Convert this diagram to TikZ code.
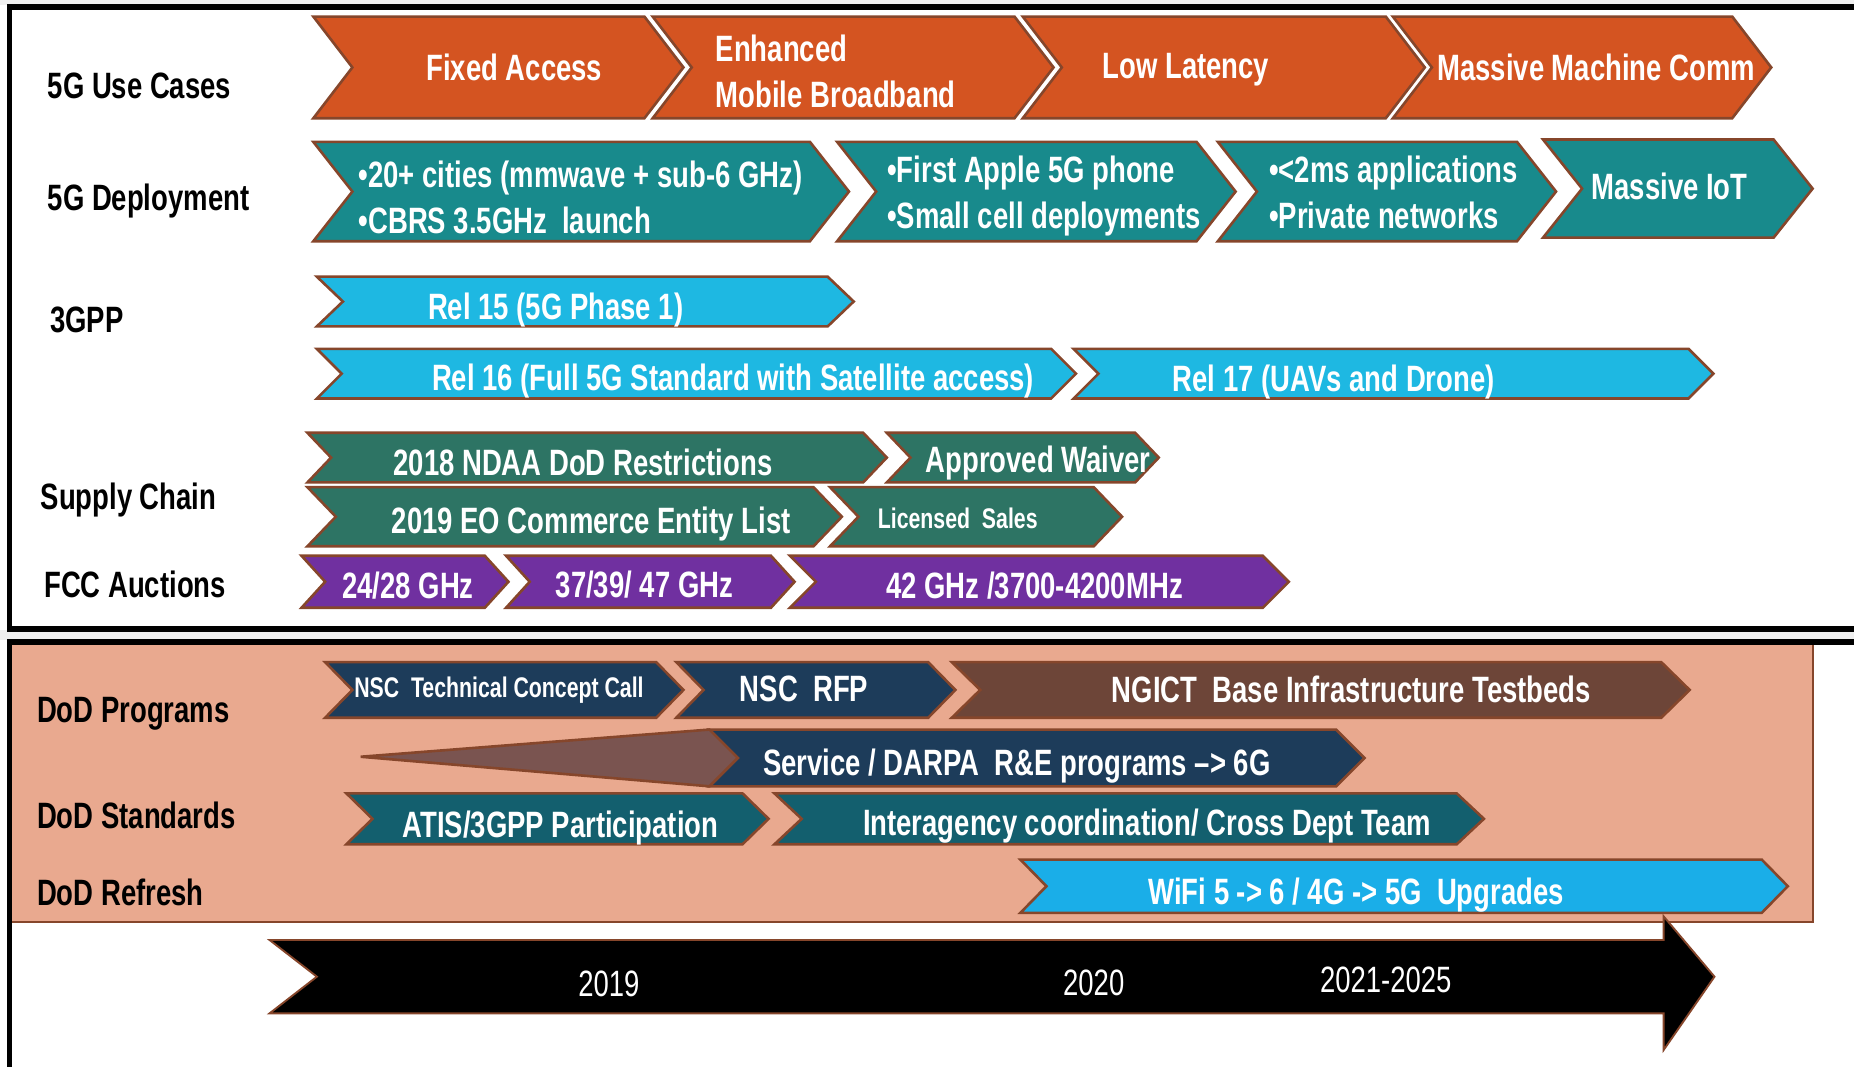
\documentclass[tikz,border=0pt]{standalone}
\usepackage{fontspec}
\newfontfamily\nar{Liberation Sans}[FakeStretch=0.75]
\definecolor{orangeC}{HTML}{D45421}
\definecolor{tealC}{HTML}{188A8C}
\definecolor{cyanC}{HTML}{1EB8E2}
\definecolor{greenC}{HTML}{2D7464}
\definecolor{purpC}{HTML}{7030A0}
\definecolor{navyC}{HTML}{1D3C5A}
\definecolor{brownC}{HTML}{6D4538}
\definecolor{dtealC}{HTML}{135F6E}
\definecolor{wifiC}{HTML}{1AAEE8}
\definecolor{salmonC}{HTML}{E9A98F}
\definecolor{wedgeC}{HTML}{7A5450}
\definecolor{edgeC}{HTML}{86462B}
\definecolor{gapC}{HTML}{EFEFEF}
\tikzset{
  chevbox/.style={draw=edgeC, line width=1.1pt, line join=miter},
  wt/.style={text=white, font=\nar\bfseries\fontsize{15.5}{19.5}\selectfont, inner sep=0pt, text height=11pt, text depth=0pt},
  wtwo/.style={text=white, font=\nar\bfseries\fontsize{15.5}{19.5}\selectfont, inner sep=0pt, align=left, anchor=west},
  wsmall/.style={wt, font=\nar\bfseries\fontsize{12}{15}\selectfont, text height=8.6pt},
  lab/.style={text=black, font=\nar\bfseries\fontsize{15.5}{19}\selectfont, inner sep=0pt, anchor=west, text height=11pt, text depth=0pt},
  yr/.style={text=white, font=\nar\fontsize{15.5}{19}\selectfont, inner sep=0pt, text height=11pt, text depth=0pt},
  frameline/.style={line width=2.3pt, black},
}
% #1 style, #2 left x, #3 right body x, #4 top y, #5 bottom y, #6 point depth
\newcommand\chev[6][]{\path[chevbox,#1] (#2,#4) -- (#3,#4) -- ({#3+#6},{(#4+#5)/2}) -- (#3,#5) -- (#2,#5) -- ({#2+#6},{(#4+#5)/2}) -- cycle;}
\begin{document}
\begin{tikzpicture}[x=0.5pt,y=-0.5pt]
\useasboundingbox (0,0) rectangle (1568,902);
\begin{scope}
\clip (0,0) rectangle (1568,902);
\fill[white] (0,0) rectangle (1568,902);
\fill[gapC] (0,0) rectangle (1568,4);
\fill[gapC] (0,533) rectangle (1568,541);
% salmon region
\path[fill=salmonC, draw=edgeC, line width=0.8pt] (9,543) rectangle (1533,780);
% frames
\draw[frameline] (1600,6) -- (8,6) -- (8,532) -- (1600,532);
\draw[frameline] (1600,543) -- (8,543) -- (8,910);

% ---------- Row 1: use cases
\chev[fill=orangeC]{265}{545}{14}{100}{33}
\chev[fill=orangeC]{552}{858}{14}{100}{33}
\chev[fill=orangeC]{865}{1172}{14}{100}{33}
\chev[fill=orangeC]{1178}{1465}{14}{100}{33}
\node[wt] (fa) at (435,57) {Fixed Access};
\node[wtwo] (emb) at (605,60) {Enhanced\\Mobile Broadband};
\node[wt] (ll) at (1003,55) {Low Latency};
\node[wt] (mmc) at (1350,57) {Massive Machine Comm};

% ---------- Row 2: deployment
\chev[fill=tealC]{265}{685}{120}{204}{33}
\chev[fill=tealC]{708}{1012}{120}{204}{33}
\chev[fill=tealC]{1030}{1283}{120}{204}{33}
\chev[fill=tealC]{1305}{1500}{118}{201}{33}
\node[wtwo] (d1) at (303,167) {•20+ cities (mmwave + sub-6 GHz)\\•CBRS 3.5GHz\ \ launch};
\node[wtwo] (d2) at (750,166) {•First Apple 5G phone\\•Small cell deployments};
\node[wtwo] (d3) at (1073,163) {•<2ms applications\\•Private networks};
\node[wt] (d4) at (1412,158) {Massive IoT};

% ---------- 3GPP
\chev[fill=cyanC]{268}{700}{234}{276}{22}
\chev[fill=cyanC]{268}{889}{295}{337}{21}
\chev[fill=cyanC]{908}{1428}{295}{337}{21}
\node[wt] (r15) at (470,259) {Rel 15 (5G Phase 1)};
\node[wt] (r16) at (620,319) {Rel 16 (Full 5G Standard with Satellite access)};
\node[wt] (r17) at (1128,320) {Rel 17 (UAVs and Drone)};

% ---------- Supply chain
\chev[fill=greenC]{260}{730}{366}{408}{20}
\chev[fill=greenC]{750}{960}{366}{408}{20}
\chev[fill=greenC]{260}{688}{412}{462}{24}
\chev[fill=greenC]{702}{925}{412}{462}{24}
\node[wt] (ndaa) at (493,391) {2018 NDAA DoD Restrictions};
\node[wt] (wav) at (878,389) {Approved Waiver};
\node[wt] (eo) at (500,440) {2019 EO Commerce Entity List};
\node[wsmall] (lic) at (810,438) {Licensed\ \ Sales};

% ---------- FCC
\chev[fill=purpC]{255}{410}{470}{514}{20}
\chev[fill=purpC]{428}{652}{470}{514}{20}
\chev[fill=purpC]{668}{1068}{470}{514}{22}
\node[wt] (f1) at (345,495) {24/28 GHz};
\node[wt] (f2) at (545,494) {37/39/ 47 GHz};
\node[wt] (f3) at (875,495) {42 GHz /3700-4200MHz};

% ---------- left labels (top)
\node[lab] (l1) at (40,72) {5G Use Cases};
\node[lab] (l2) at (40,167) {5G Deployment};
\node[lab] (l3) at (42,270) {3GPP};
\node[lab] (l4) at (34,420) {Supply Chain};
\node[lab] (l5) at (37,494) {FCC Auctions};

% ---------- DoD programs
\chev[fill=navyC]{275}{555}{560}{607}{23}
\chev[fill=navyC]{572}{785}{560}{607}{23}
\chev[fill=brownC]{805}{1405}{560}{607}{24}
\chev[fill=navyC]{600}{1130}{617}{665}{24}
\path[chevbox, fill=wedgeC] (305,640) -- (600,617) -- (624,641) -- (600,665) -- cycle;
\node[wsmall] (nsc1) at (422,581) {NSC\ \ Technical Concept Call};
\node[wt] (nsc2) at (680,582) {NSC\ \ RFP};
\node[wt] (ngict) at (1143,583) {NGICT\ \ Base Infrastructure Testbeds};
\node[wt] (darpa) at (860,645) {Service / DARPA\ \ R\&E programs –> 6G};

% ---------- DoD standards
\chev[fill=dtealC]{293}{628}{671}{714}{22}
\chev[fill=dtealC]{655}{1232}{671}{714}{23}
\node[wt] (atis) at (474,697) {ATIS/3GPP Participation};
\node[wt] (inter) at (970,696) {Interagency coordination/ Cross Dept Team};

% ---------- DoD refresh
\chev[fill=wifiC]{863}{1490}{727}{772}{22}
\node[wt] (wifi) at (1147,754) {WiFi 5 -> 6 / 4G -> 5G\ \ Upgrades};

% ---------- left labels (bottom)
\node[lab] (l6) at (31,600) {DoD Programs};
\node[lab] (l7) at (31,690) {DoD Standards};
\node[lab] (l8) at (31,755) {DoD Refresh};

% ---------- timeline arrow
\path[fill=black, draw=edgeC, line width=0.8pt, line join=miter]
  (228,795) -- (1407,795) -- (1407,775) -- (1450,826) -- (1407,888) -- (1407,857) -- (228,857) -- (268,826) -- cycle;
\node[yr] (y1) at (515,832) {2019};
\node[yr] (y2) at (925,831) {2020};
\node[yr] (y3) at (1172,828) {2021-2025};
\end{scope}
\end{tikzpicture}
\end{document}
